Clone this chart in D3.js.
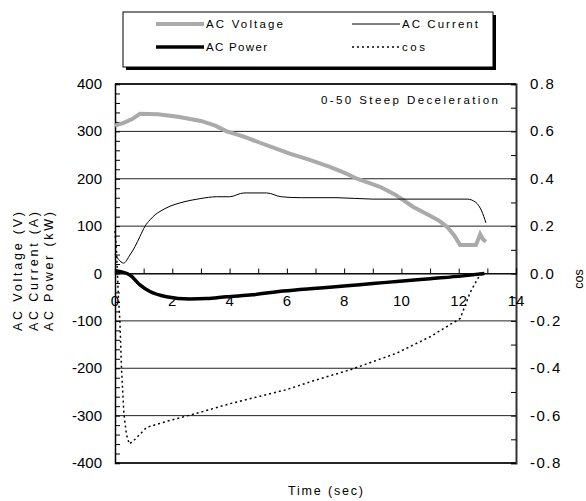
<!DOCTYPE html>
<html>
<head>
<meta charset="utf-8">
<script src="https://cdn.jsdelivr.net/npm/d3@7"></script>
<style>
  body { margin: 0; background: #fff; }
  text { font-family: "Liberation Sans Narrow", "Liberation Sans", Arial, sans-serif; fill: #000; }
</style>
</head>
<body>
<div id="chart"></div>
<script>
// data (time in sec)
var voltageT = [0, 0.3, 0.6, 0.87, 1.5, 2.2, 3.0, 3.5, 3.9, 4.5, 5.06, 5.6, 6.1, 6.8, 7.5, 8.0, 8.45, 9.25, 9.8, 10.4, 10.9, 11.3, 11.6, 11.85, 12.05, 12.3, 12.6, 12.7, 12.75, 12.85, 12.95];
var voltageV = [312, 318, 326, 337, 336, 331, 322, 312, 300, 289, 276, 264, 253, 240, 225, 213, 200, 183, 166, 141, 125, 112, 98, 80, 60, 60, 60, 75, 83, 72, 67];

var currentT = [0, 0.12, 0.3, 0.52, 0.7, 0.87, 1.05, 1.22, 1.4, 1.57, 1.92, 2.27, 2.97, 3.55, 4.0, 4.5, 5.3, 5.8, 6.5, 7.75, 9, 10, 11, 12.3, 12.6, 12.8, 12.95];
var currentI = [40, 30, 22, 39, 57, 78, 100, 113, 124, 131, 142, 149, 158, 162, 162, 170, 170, 162, 160, 160, 157, 157, 157, 157, 150, 132, 107];

var powerT = [0, 0.2, 0.52, 0.87, 1.22, 1.8, 2.6, 3.2, 3.9, 4.8, 5.87, 7.05, 8.1, 9.0, 9.84, 11.0, 12.15, 12.9];
var powerP = [6, 4, -3, -24, -38, -49, -54, -53, -49, -45, -37, -31, -26, -21, -17, -11, -5, 0];

var cosT = [0, 0.05, 0.12, 0.17, 0.23, 0.31, 0.4, 0.5, 0.7, 1.1, 1.92, 2.86, 4.0, 5.0, 6.0, 7.0, 8.2, 9.84, 11.0, 12.05, 12.4, 12.67, 12.85];
var cosV = [0.18, 0.1, -0.1, -0.2, -0.41, -0.59, -0.68, -0.72, -0.7, -0.65, -0.62, -0.59, -0.55, -0.52, -0.49, -0.45, -0.407, -0.336, -0.267, -0.19, -0.08, -0.02, 0];

var leftTicks = [400, 300, 200, 100, 0, -100, -200, -300, -400];
var rightTicks = [0.8, 0.6, 0.4, 0.2, 0.0, -0.2, -0.4, -0.6, -0.8];
var xTicks = [0, 2, 4, 6, 8, 10, 12, 14];

var width = 586, height = 501;
var svg = d3.select("#chart").append("svg")
    .attr("width", width)
    .attr("height", height);

var x0 = 115, x1 = 516, yTop = 84, yBot = 463;

var xScale = d3.scaleLinear().domain([0, 14]).range([x0, x1]);
var yScale = d3.scaleLinear().domain([-400, 400]).range([yBot, yTop]);
var cosScale = d3.scaleLinear().domain([-0.8, 0.8]).range([yBot, yTop]);

// gridlines
svg.append("g").selectAll("line").data(leftTicks)
    .enter().append("line")
    .attr("x1", x0).attr("x2", x1)
    .attr("y1", function (d) { return yScale(d); })
    .attr("y2", function (d) { return yScale(d); })
    .attr("stroke", "#222").attr("stroke-width", 1);

// left axis (ticks inside)
var leftAxis = d3.axisRight(yScale)
    .tickValues(d3.range(-400, 401, 20))
    .tickSize(5)
    .tickFormat("");
svg.append("g").attr("transform", "translate(" + x0 + ",0)").call(leftAxis)
    .call(function (g) { g.select(".domain").attr("stroke", "#000").attr("stroke-width", 1.5); });

svg.append("g").selectAll("text").data(leftTicks)
    .enter().append("text")
    .attr("x", 102).attr("y", function (d) { return yScale(d) + 5; })
    .attr("text-anchor", "end")
    .style("font-family", "'Liberation Sans', Arial, sans-serif")
    .style("font-size", "15px")
    .text(function (d) { return d; });

// right axis (ticks inside)
var rightAxis = d3.axisLeft(cosScale)
    .tickValues(d3.range(-8, 9, 1).map(function (d) { return d / 10; }))
    .tickSize(5)
    .tickFormat("");
svg.append("g").attr("transform", "translate(" + x1 + ",0)").call(rightAxis)
    .call(function (g) { g.select(".domain").attr("stroke", "#333").attr("stroke-width", 2); });

svg.append("g").selectAll("text").data(rightTicks)
    .enter().append("text")
    .attr("x", 530).attr("y", function (d) { return cosScale(d) + 5; })
    .style("font-family", "'Liberation Sans', Arial, sans-serif")
    .style("font-size", "15px")
    .style("letter-spacing", "1.5px")
    .text(function (d) { return d3.format(".1f")(d).replace("−", "-"); });

// top and bottom border
svg.append("line").attr("x1", x0).attr("x2", x1).attr("y1", yTop).attr("y2", yTop)
    .attr("stroke", "#000").attr("stroke-width", 1.5);
svg.append("line").attr("x1", x0).attr("x2", x1).attr("y1", yBot).attr("y2", yBot)
    .attr("stroke", "#000").attr("stroke-width", 1.5);

// x axis at zero, ticks pointing up
var xAxis = d3.axisTop(xScale)
    .tickValues(d3.range(0, 15, 1))
    .tickSize(5)
    .tickFormat("");
svg.append("g").attr("transform", "translate(0," + yScale(0) + ")").call(xAxis)
    .call(function (g) { g.select(".domain").attr("stroke", "#000").attr("stroke-width", 1.2); });

svg.append("g").selectAll("text").data(xTicks)
    .enter().append("text")
    .attr("x", function (d) { return xScale(d); })
    .attr("y", yScale(0) + 32)
    .attr("text-anchor", "middle")
    .style("font-family", "'Liberation Sans', Arial, sans-serif")
    .style("font-size", "15px")
    .text(function (d) { return d; });

// series
var lineV = d3.line().x(function (d) { return xScale(d[0]); }).y(function (d) { return yScale(d[1]); });
var lineC = d3.line().x(function (d) { return xScale(d[0]); }).y(function (d) { return cosScale(d[1]); });

svg.append("path").datum(d3.zip(voltageT, voltageV))
    .attr("d", lineV).attr("fill", "none")
    .attr("stroke", "#aaa").attr("stroke-width", 4);

svg.append("path").datum(d3.zip(currentT, currentI))
    .attr("d", lineV.curve(d3.curveMonotoneX)).attr("fill", "none")
    .attr("stroke", "#000").attr("stroke-width", 1);

svg.append("path").datum(d3.zip(powerT, powerP))
    .attr("d", lineV.curve(d3.curveMonotoneX)).attr("fill", "none")
    .attr("stroke", "#000").attr("stroke-width", 3.5);

svg.append("path").datum(d3.zip(cosT, cosV))
    .attr("d", lineC).attr("fill", "none")
    .attr("stroke", "#000").attr("stroke-width", 1.5)
    .attr("stroke-dasharray", "2,3");

// annotation
svg.append("text").attr("x", 321).attr("y", 104)
    .attr("textLength", 177).attr("lengthAdjust", "spacing")
    .style("font-size", "11.5px")
    .text("0-50 Steep Deceleration");

// axis titles
var leftTitles = ["AC Voltage (V)", "AC Current (A)", "AC Power (kW)"];
svg.append("g").selectAll("text").data(leftTitles)
    .enter().append("text")
    .attr("transform", function (d, i) { return "translate(" + (22 + i * 15.5) + ",331) rotate(-90)"; })
    .attr("textLength", 119).attr("lengthAdjust", "spacing")
    .style("font-size", "12.5px")
    .text(function (d) { return d; });

svg.append("text")
    .attr("transform", "translate(583,279) rotate(-90)")
    .attr("text-anchor", "middle")
    .style("font-size", "12.5px")
    .text("cos");

svg.append("text").attr("x", 288).attr("y", 495)
    .attr("textLength", 75).attr("lengthAdjust", "spacing")
    .style("font-size", "12.5px")
    .text("Time (sec)");

// legend
var legend = svg.append("g");
legend.append("rect").attr("x", 126).attr("y", 15).attr("width", 370).attr("height", 55).attr("fill", "#000");
legend.append("rect").attr("x", 123).attr("y", 12).attr("width", 370).attr("height", 55)
    .attr("fill", "#fff").attr("stroke", "#000").attr("stroke-width", 1);

var legendItems = [
    { name: "AC Voltage", x: 156, y: 24, len: 77, color: "#aaa", w: 4, dash: null },
    { name: "AC Current", x: 352, y: 24, len: 76, color: "#000", w: 1, dash: null },
    { name: "AC Power", x: 156, y: 47, len: 61, color: "#000", w: 3.5, dash: null },
    { name: "cos", x: 352, y: 47, len: 23, color: "#000", w: 1.5, dash: "2,3" }
];
legendItems.forEach(function (d) {
    legend.append("line").attr("x1", d.x).attr("x2", d.x + 48).attr("y1", d.y).attr("y2", d.y)
        .attr("stroke", d.color).attr("stroke-width", d.w)
        .attr("stroke-dasharray", d.dash);
    legend.append("text").attr("x", d.x + 50).attr("y", d.y + 4)
        .attr("textLength", d.len).attr("lengthAdjust", "spacing")
        .style("font-size", "11.5px")
        .text(d.name);
});
</script>
</body>
</html>
